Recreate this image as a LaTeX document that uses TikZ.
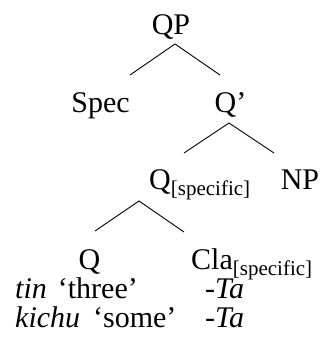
\documentclass[tikz,border=0pt]{standalone}
\usepackage{fontspec}
\setmainfont{Liberation Serif}
\usepackage{tikz}
\usetikzlibrary{positioning}

\newcommand\treefont{\fontsize{30}{36}\selectfont}

\begin{document}
\begin{tikzpicture}[x=1pt, y=-1pt,
  cat/.style={font=\treefont, anchor=base, inner sep=0pt},
  gloss/.style={font=\treefont, anchor=base west, inner sep=0pt},
  branch/.style={line width=0.9pt}]

  \useasboundingbox (0,0) rectangle (323,347);

  % categories
  \node[cat] (qp)    at (171,35)  {QP};
  \node[cat] (spec)  at (100.5,113) {Spec};
  \node[cat] (qbar)  at (230.5,113) {Q’};
  \node[cat, anchor=base west] (qspec) at (149,189) {Q\textsubscript{[specific]}};
  \node[cat] (np)    at (300,189) {NP};
  \node[cat] (q)     at (89.5,269) {Q};
  \node[cat, anchor=base west] (cla) at (191,269) {Cla\textsubscript{[specific]}};

  % glosses
  \node[gloss] (tin)   at (15,298)  {\textit{tin}\hspace{11pt}‘three’};
  \node[gloss] (ta1)   at (205,298) {\textit{-Ta}};
  \node[gloss] (kichu) at (15,327)  {\textit{kichu}\hspace{13pt}‘some’};
  \node[gloss] (ta2)   at (205,327) {\textit{-Ta}};

  % branches
  \coordinate (qpTop)   at (175,44);
  \coordinate (qpL)     at (130,75);
  \coordinate (qpR)     at (220,75);
  \coordinate (qbarTop) at (229,123);
  \coordinate (qbarL)   at (184,153);
  \coordinate (qbarR)   at (274,153);
  \coordinate (qsTop)   at (139,201);
  \coordinate (qsL)     at (95,231);
  \coordinate (qsR)     at (184,232);

  \draw[branch] (qpL) -- (qpTop) -- (qpR);
  \draw[branch] (qbarL) -- (qbarTop) -- (qbarR);
  \draw[branch] (qsL) -- (qsTop) -- (qsR);
\end{tikzpicture}
\end{document}
